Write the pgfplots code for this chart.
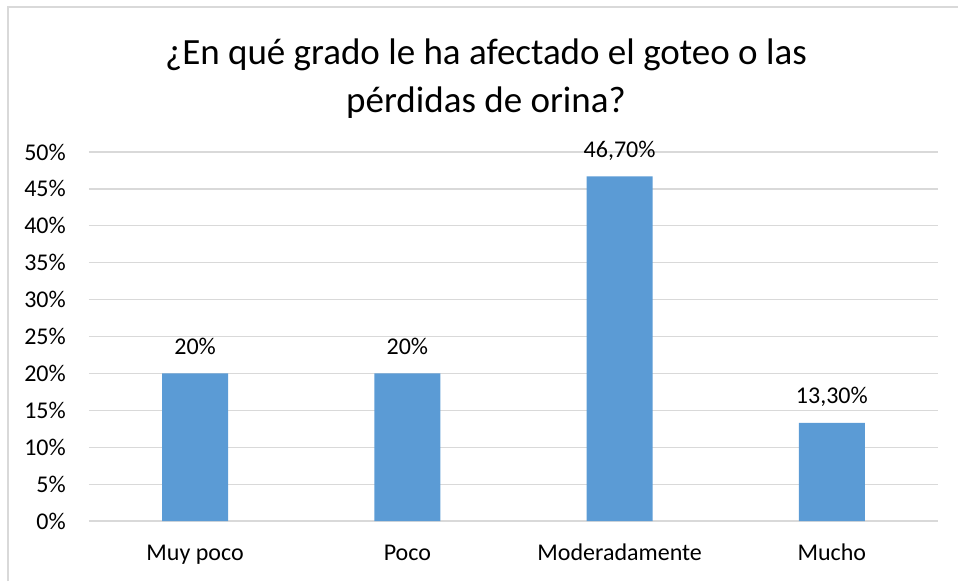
\documentclass[border=0pt]{standalone}
\usepackage{fontspec}
\setmainfont{Carlito}
\usepackage{pgfplots}
\pgfplotsset{compat=1.18}
\usepackage{pgfplotstable}
\definecolor{barblue}{HTML}{5B9BD5}
\definecolor{gridgray}{HTML}{D9D9D9}
\pgfplotstableread{
x y lab
0 20 20\%
1 20 20\%
2 46.7 46,70\%
3 13.3 13,30\%
}\datatable
\begin{document}
\begin{tikzpicture}
\useasboundingbox (-89pt,-60pt) rectangle (869pt,521pt);
\draw[gridgray, line width=1.5pt] (-81pt,-60pt) -- (-81pt,514pt) -- (875pt,514pt);
\begin{axis}[
  at={(0,0)}, anchor=south west,
  scale only axis,
  width=849pt, height=369pt,
  xmin=-0.5, xmax=3.5,
  ymin=0, ymax=50,
  axis line style={draw=none},
  major tick length=0pt,
  ymajorgrids,
  grid style={gridgray, line width=1.2pt},
  ytick={0,5,...,50},
  yticklabels={0\%,5\%,10\%,15\%,20\%,25\%,30\%,35\%,40\%,45\%,50\%},
  xtick={0,1,2,3},
  xticklabels={Muy poco,Poco,Moderadamente,Mucho},
  yticklabel style={anchor=east, inner sep=0pt, xshift=-23pt, font=\fontsize{24}{28}\selectfont},
  xticklabel style={anchor=base, inner sep=0pt, yshift=-39pt, font=\fontsize{24}{28}\selectfont},
  ybar, bar width=66pt, bar shift=0pt,
  nodes near coords,
  point meta=explicit symbolic,
  every node near coord/.append style={anchor=base, inner sep=0pt, yshift=19pt, font=\fontsize{24}{28}\selectfont, text=black},
  clip=false,
]
\addplot[fill=barblue, draw=none] table[x=x, y=y, meta=lab] {\datatable};
\end{axis}
\node[anchor=base, font=\fontsize{37}{44}\selectfont] at (397pt,456pt) {¿En qué grado le ha afectado el goteo o las};
\node[anchor=base, font=\fontsize{37}{44}\selectfont] at (397pt,408pt) {pérdidas de orina?};
\end{tikzpicture}
\end{document}
